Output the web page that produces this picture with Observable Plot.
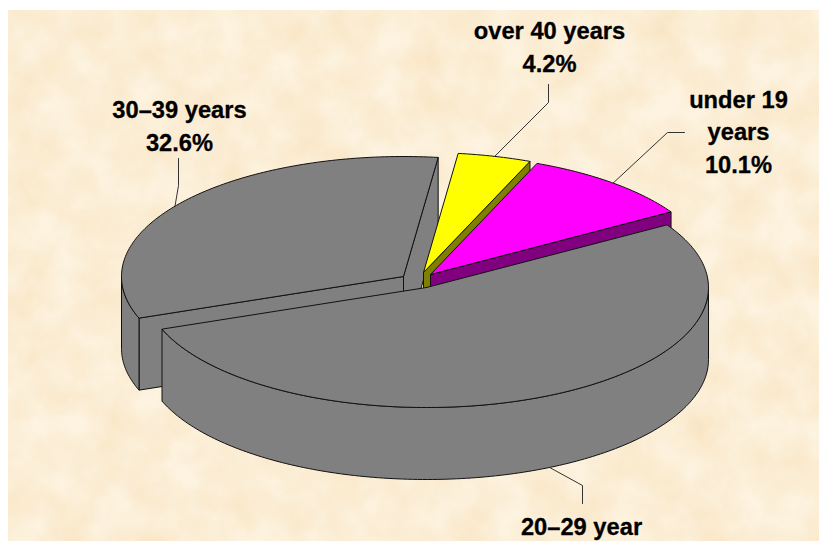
<!DOCTYPE html>
<html>
<head>
<meta charset="utf-8">
<script src="https://cdn.jsdelivr.net/npm/d3@7"></script>
<script src="https://cdn.jsdelivr.net/npm/@observablehq/plot@0.6"></script>
<style>
html,body{margin:0;padding:0;background:#fff;width:819px;height:541px;overflow:hidden}
#wrap{position:relative;width:819px;height:541px}
#paper{position:absolute;left:8px;top:10px;width:811px;height:531px;display:block}
#chart{position:absolute;left:0;top:0}
#chart svg{display:block;background:transparent}
</style>
</head>
<body>
<div id="wrap">
<svg id="paper" xmlns="http://www.w3.org/2000/svg" aria-hidden="true">
  <filter id="mottle" x="0" y="0" width="100%" height="100%" color-interpolation-filters="sRGB">
    <feTurbulence type="fractalNoise" baseFrequency="0.025" numOctaves="5" seed="7"/>
    <feColorMatrix type="matrix" values="0 0 0 0 0.965  0 0 0 0 0.865  0 0 0 0 0.70  0.9 0 0 0 -0.22"/>
  </filter>
  <rect width="100%" height="100%" fill="#fdf3e0"/>
  <rect width="100%" height="100%" filter="url(#mottle)"/>
</svg>
<div id="chart"></div>
</div>
<script>
// Data, in the drawing order of the slices (back to front)
const categories = ["30–39 years", "over 40 years", "under 19 years", "20–29 year"];
const shares = [32.6, 4.2, 10.1, 53.1];
const labels = ["30–39 years\n32.6%", "over 40 years\n4.2%", "under 19\nyears\n10.1%", "20–29 year"];
const topColors = ["#808080", "#ffff00", "#ff00ff", "#808080"];
const sideColors = ["#808080", "#808000", "#800080", "#808080"];

// Pie layout (the picture's own frame of reference)
const startAngle = 159.7;       // degrees, clockwise from the right
const rx = 282, ry = 120, depth = 72;
const apexX = [403, 423, 430, 426];
const apexY = [276, 272, 274, 287];
const labelX = [179, 549, 738, 581];
const labelBaseline = [150, 71, 172, 534];
const elbowX = [178, 548, 667, 582];
const elbowY = [185, 102, 132, 485];
const leaderEndX = [178, 548, 684, 582];
const leaderEndY = [158, 84, 132, 503];
const leaderNudge = [-2.5, 0, 0, 0];
const rad = Math.PI / 180;

// Turn the shares into angular spans
let running = startAngle;
const slices = categories.map((name, i) => {
  const t0 = running, t1 = running + shares[i] * 3.6;
  running = t1;
  return {name, i, t0, t1, cx: apexX[i], cy: apexY[i]};
});
const rimPoint = (s, t, drop = 0) => ({
  x: s.cx + rx * Math.cos(t * rad),
  y: s.cy + ry * Math.sin(t * rad) + drop
});
const arc = (s, a, b, drop = 0) => {
  const n = Math.max(2, Math.ceil(Math.abs(b - a)));
  return d3.range(n + 1).map(k => rimPoint(s, a + (b - a) * k / n, drop));
};
const topFace = s => {
  const apex = {x: s.cx, y: s.cy};
  return [apex, ...arc(s, s.t0, s.t1), apex];
};
const wall = (s, t) => {
  const p = rimPoint(s, t), q = rimPoint(s, t, depth);
  const a = {x: s.cx, y: s.cy}, b = {x: s.cx, y: s.cy + depth};
  return [a, p, q, b, a];
};
// The part of the outer rim that faces the viewer
const rims = s => {
  const spans = [];
  for (const turn of [0, 360]) {
    const a = Math.max(s.t0, turn), b = Math.min(s.t1, turn + 180);
    if (b > a) spans.push([a, b]);
  }
  return spans.map(([a, b]) => {
    const upper = arc(s, a, b), lower = arc(s, a, b, depth).reverse();
    return [...upper, ...lower, upper[0]];
  });
};

const face = (pts, fill) => Plot.line(pts, {
  x: "x", y: "y", fill, stroke: "#111", strokeWidth: 1, strokeLinejoin: "round"
});

const marks = [];
for (const s of slices) {
  const side = sideColors[s.i];
  if (Math.cos(s.t0 * rad) < 0) marks.push(face(wall(s, s.t0), side));
  if (Math.cos(s.t1 * rad) > 0) marks.push(face(wall(s, s.t1), side));
  for (const r of rims(s)) marks.push(face(r, side));
  marks.push(face(topFace(s), topColors[s.i]));
}
// Leader lines start on the rim at each slice's middle angle
for (const s of slices) {
  const mid = (s.t0 + s.t1) / 2 + leaderNudge[s.i];
  const onFront = Math.sin(mid * rad) > 0;
  const start = rimPoint(s, mid, onFront ? depth : 0);
  marks.push(Plot.line(
    [start, {x: elbowX[s.i], y: elbowY[s.i]}, {x: leaderEndX[s.i], y: leaderEndY[s.i]}],
    {x: "x", y: "y", stroke: "#333", strokeWidth: 1}
  ));
}
marks.push(Plot.text(slices, {
  x: s => labelX[s.i],
  y: s => labelBaseline[s.i],
  text: s => labels[s.i],
  lineAnchor: "bottom",
  lineHeight: 1.36,
  textAnchor: "middle",
  fontFamily: "Liberation Sans",
  fontWeight: "bold",
  fontSize: 23.7,
  fill: "#000",
  stroke: "#000",
  strokeWidth: 0.3
}));

const plot = Plot.plot({
  width: 819,
  height: 541,
  margin: 0,
  style: {background: "transparent"},
  x: {domain: [0, 819], range: [0, 819], axis: null},
  y: {domain: [0, 541], range: [0, 541], axis: null},
  marks
});
document.getElementById("chart").append(plot);
</script>
</body>
</html>
